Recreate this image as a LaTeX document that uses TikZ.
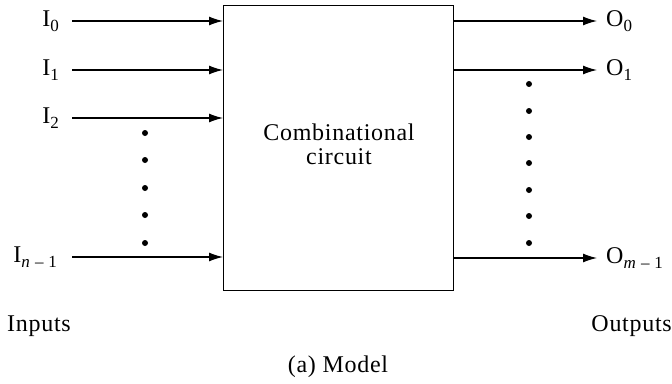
\documentclass[tikz,border=0pt]{standalone}
\usepackage{fontspec}
\setmainfont{Liberation Serif}[LetterSpace=3]
\usetikzlibrary{arrows.meta}
\newcommand{\mysub}[1]{\raisebox{-0.45ex}{\fontsize{17}{17}\selectfont #1}}
\begin{document}
\begin{tikzpicture}[x=1pt,y=-1pt,
  lbl/.style={inner sep=0pt,font=\fontsize{24}{27}\selectfont},
  conn/.style={line width=1.3pt,-{Latex[length=14pt,width=9pt]}},
  dotmark/.style={circle,fill=black,inner sep=0pt,minimum size=6pt}]
\useasboundingbox (0,0) rectangle (672,383);
\node[draw,line width=1.2pt,minimum width=230pt,minimum height=285pt,inner sep=0pt,anchor=north west] (cc) at (223,5) {};
\node[lbl,align=center] (cctext) at (339,144) {Combinational\\[-3pt]circuit};
% inputs
\node[lbl,anchor=east] (I0) at (59,21) {I\mysub{0}};
\node[lbl,anchor=east] (I1) at (59,70) {I\mysub{1}};
\node[lbl,anchor=east] (I2) at (59,118) {I\mysub{2}};
\node[lbl,anchor=east] (In) at (57,257) {I\mysub{\textit{n} – 1}};
\coordinate (a0) at (72,21);
\coordinate (a1) at (72,70);
\coordinate (a2) at (72,118);
\coordinate (an) at (72,257);
\foreach \c in {a0,a1,a2,an} \draw[conn] (\c) -- (\c -| cc.west);
% outputs
\coordinate (b0) at (597,21);
\coordinate (b1) at (597,70);
\coordinate (bm) at (597,258);
\foreach \c in {b0,b1,bm} \draw[conn] (\c -| cc.east) -- (\c);
\node[lbl,anchor=west] (O0) at (606,21) {O\mysub{0}};
\node[lbl,anchor=west] (O1) at (606,70) {O\mysub{1}};
\node[lbl,anchor=west] (Om) at (606,258) {O\mysub{\textit{m} – 1}};
% dots
\foreach \y [count=\i] in {133,160,188,215,243} \node[dotmark] (ld\i) at (145,\y) {};
\foreach \y [count=\i] in {84,111,137,163,190,216,243} \node[dotmark] (rd\i) at (529,\y) {};
% captions
\node[lbl,anchor=west] (inputs) at (7,326) {Inputs};
\node[lbl,anchor=east] (outputs) at (672,326) {Outputs};
\node[lbl] (model) at (338,367) {(a) Model};
\end{tikzpicture}
\end{document}
